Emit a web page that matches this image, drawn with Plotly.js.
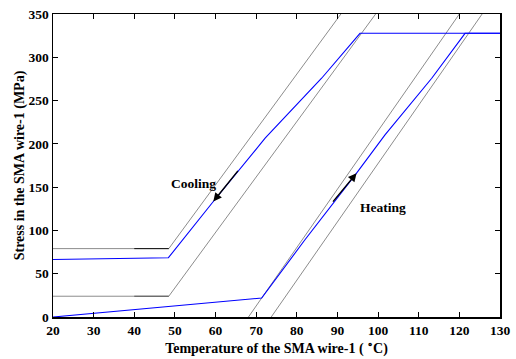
<!DOCTYPE html>
<html>
<head>
<meta charset="utf-8">
<script src="https://cdn.plot.ly/plotly-3.0.1.min.js"></script>
<style>
  html, body { margin: 0; padding: 0; background: #fff; }
  #chart { width: 516px; height: 359px; }
</style>
</head>
<body>
<div id="chart"></div>
<script>
// Transformation boundary lines (temperature in °C, stress in MPa)
const coolUpperT = [20, 48.5, 90.85];
const coolUpperS = [79, 79, 350];
const coolLowerT = [20, 48.5, 99.4];
const coolLowerS = [24, 24, 350];
const heatLeftT = [68.1, 120.0];
const heatLeftS = [0, 350];
const heatRightT = [73.7, 125.6];
const heatRightS = [0, 350];

// Darker stretches of the flat boundary segments
const upperDarkT = [40, 48.5];
const upperDarkS = [79, 79];
const lowerDarkT = [40, 48.5];
const lowerDarkS = [24, 24];

// Stress response of SMA wire-1
const heatT = [20, 71.35, 82.0, 94.7, 101.7, 113.2, 121.4, 130];
const heatS = [0, 21.9, 89.2, 166.1, 210.3, 275.8, 327.7, 327.7];
const coolT = [130, 95.55, 86.1, 79.0, 72.2, 59.45, 48.4, 20];
const coolS = [327.7, 327.7, 275.8, 240.5, 206.5, 133.4, 68.5, 66.5];

// Direction arrows: [tailT, tailS, headT, headS]
const coolArrow = [65.8, 170.5, 59.45, 133.4];
const heatArrow = [88.6, 131.5, 94.7, 166.1];

// Labels
const labelText = ['Cooling', 'Heating'];
const labelT = [54.5, 101.2];
const labelS = [154.6, 126.5];

const xTicks = [20, 30, 40, 50, 60, 70, 80, 90, 100, 110, 120, 130];
const yTicks = [0, 50, 100, 150, 200, 250, 300, 350];

const serif = 'Liberation Serif, Times New Roman, serif';
const grey = '#8c8c8c';

function line(x, y, color, width) {
  return { x: x, y: y, type: 'scatter', mode: 'lines',
           line: { color: color, width: width }, hoverinfo: 'skip', showlegend: false };
}

const traces = [
  line(coolUpperT, coolUpperS, grey, 1),
  line(coolLowerT, coolLowerS, grey, 1),
  line(heatLeftT, heatLeftS, grey, 1),
  line(heatRightT, heatRightS, grey, 1),
  line(upperDarkT, upperDarkS, '#111', 1),
  line(lowerDarkT, lowerDarkS, '#555', 1),
  line(heatT, heatS, '#0000ff', 1.1),
  line(coolT, coolS, '#0000ff', 1.1)
];

const annotations = [coolArrow, heatArrow].map(a => ({
  x: a[2], y: a[3], ax: a[0], ay: a[1],
  xref: 'x', yref: 'y', axref: 'x', ayref: 'y',
  showarrow: true, arrowhead: 2, arrowsize: 1.2, arrowwidth: 1.4,
  arrowcolor: '#000', text: ''
}));
labelText.forEach((t, i) => annotations.push({
  x: labelT[i], y: labelS[i], xref: 'x', yref: 'y', text: t, showarrow: false,
  font: { family: serif, size: 13.5, color: '#000', weight: 'bold' }
}));

const axisCommon = {
  showgrid: false, zeroline: false,
  showline: true, linecolor: '#000', linewidth: 1.5, mirror: 'allticks',
  ticks: 'inside', ticklen: 5, tickwidth: 1, tickcolor: '#000',
  tickfont: { family: serif, size: 13.5, color: '#000', weight: 'bold' }
};

const layout = {
  width: 516, height: 359,
  margin: { l: 53, r: 16, t: 14, b: 42 },
  paper_bgcolor: '#fff', plot_bgcolor: '#fff',
  xaxis: Object.assign({}, axisCommon, {
    range: [20, 130], tickvals: xTicks, ticktext: xTicks.map(String),
    title: { text: 'Temperature of the SMA wire-1 ( <sup>∘</sup>C)',
             font: { family: serif, size: 14, color: '#000', weight: 'bold' }, standoff: 3 }
  }),
  yaxis: Object.assign({}, axisCommon, {
    range: [0, 350], tickvals: yTicks, ticktext: yTicks.map(String),
    title: { text: 'Stress in the SMA wire-1 (MPa)',
             font: { family: serif, size: 14, color: '#000', weight: 'bold' }, standoff: 0 }
  }),
  annotations: annotations
};

Plotly.newPlot('chart', traces, layout, { displayModeBar: false, staticPlot: true });
</script>
</body>
</html>
